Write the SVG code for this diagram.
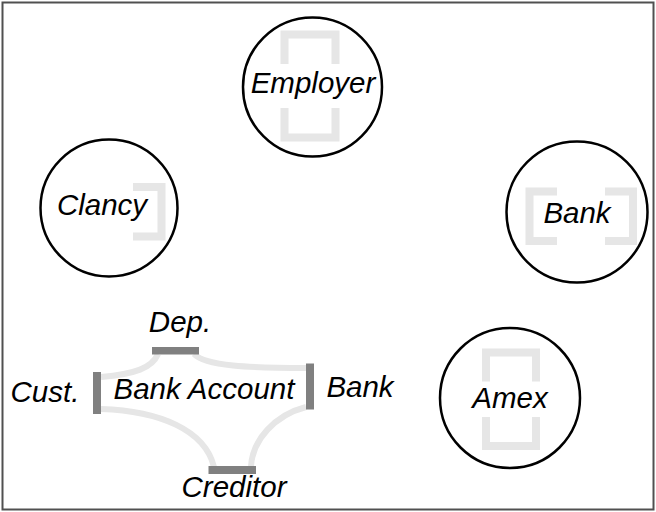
<svg xmlns="http://www.w3.org/2000/svg" width="656" height="512" viewBox="0 0 656 512">
<style>
.node{fill:#fff;stroke:#000;stroke-width:2.5}
.br{fill:none;stroke:#e6e6e6;stroke-width:8}
.t{font-family:"Liberation Sans",Arial,sans-serif;font-style:italic;font-size:29.5px;fill:#000;text-anchor:middle}
.lk{fill:none;stroke:#e6e6e6;stroke-width:6}
.bar{fill:#808080}
</style>
<rect x="2.5" y="2.5" width="651" height="507" fill="#fff" stroke="#505050" stroke-width="2"/>
<g id="employer">
<circle class="node" cx="312.5" cy="87" r="69.5"/>
<path class="br" d="M284.5,64 V34.5 H335.5 V64"/>
<path class="br" d="M284.5,108 V137.5 H335.5 V108"/>
<text class="t" x="313" y="93">Employer</text>
</g>
<g id="clancy">
<circle class="node" cx="109" cy="208" r="68.5"/>
<path class="br" d="M133,187 H161.5 V236.5 H133"/>
<text class="t" x="102" y="215">Clancy</text>
</g>
<g id="bank">
<circle class="node" cx="577" cy="212" r="70.5"/>
<path class="br" d="M557,191.5 H529.5 V241 H557"/>
<path class="br" d="M605,191.5 H633 V241 H605"/>
<text class="t" x="577" y="222.5">Bank</text>
</g>
<g id="amex">
<circle class="node" cx="510" cy="398" r="70"/>
<path class="br" d="M486,381.5 V352.5 H536 V381.5"/>
<path class="br" d="M486,417 V446 H536 V417"/>
<text class="t" x="510" y="408">Amex</text>
</g>
<g id="connectors">
<path class="lk" d="M101,377 C135,374 152,368 158,354"/>
<path class="lk" d="M194,354 C205,366 250,368 306,368"/>
<path class="lk" d="M101,409 C160,411 205,430 214,467"/>
<path class="lk" d="M306,407 C275,415 252,440 251,467"/>
</g>
<g id="bank-account">
<rect class="bar" x="152" y="347" width="47" height="7.5"/>
<rect class="bar" x="93" y="372" width="8" height="42"/>
<rect class="bar" x="306" y="363.5" width="8" height="46"/>
<rect class="bar" x="208.5" y="466" width="47.5" height="8"/>
<text class="t" x="204" y="399">Bank Account</text>
<text class="t" x="180" y="332">Dep.</text>
<text class="t" x="45" y="402">Cust.</text>
<text class="t" x="360" y="397">Bank</text>
<text class="t" x="234" y="497">Creditor</text>
</g>
</svg>
